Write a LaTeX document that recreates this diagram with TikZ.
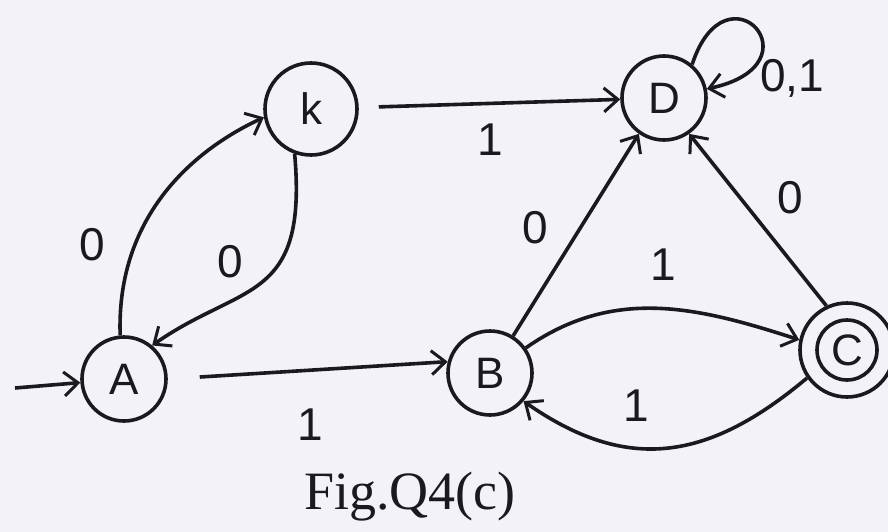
\documentclass[tikz,border=0pt]{standalone}
\usepackage{fontspec}
\setmainfont{Liberation Serif}
\setsansfont{Liberation Sans}
\usetikzlibrary{arrows.meta}
\definecolor{bg}{RGB}{243,242,247}
\definecolor{ink}{RGB}{25,25,30}
\begin{document}
\begin{tikzpicture}[x=1pt,y=-1pt,
  st/.style={circle,draw=ink,line width=3.6pt,inner sep=0pt,text=ink,font=\sffamily\fontsize{44}{46}\selectfont},
  tr/.style={draw=ink,line width=3.6pt,-{Straight Barb[length=14pt,width=24pt,line width=3pt]}},
  lab/.style={font=\sffamily\fontsize{46}{48}\selectfont,text=ink}]
\fill[bg] (0,0) rectangle (888,532);
\useasboundingbox (0,0) rectangle (888,532);
% states
\node[st,minimum size=84pt] (A) at (124,379) {A};
\node[st,minimum size=92pt] (k) at (311,109) {k};
\node[st,minimum size=84pt] (D) at (664,98) {D};
\node[st,minimum size=84pt] (B) at (490,373) {B};
\node[st,minimum size=94pt] (C) at (847,350) {};
\node[st,minimum size=60pt] (Ci) at (847,350) {C};
% start arrow
\coordinate (s) at (15,388);
\draw[tr] (s) -- (A);
% transitions
\draw[tr] (A.95) .. controls +(92:110pt) and +(205:90pt) .. (k.190);
\draw[tr] (k.-110) .. controls +(-85:150pt) and +(35:110pt) .. (A.50);
\draw[tr,shorten <=20pt] (k) -- (D);
\draw[tr] (D.50) .. controls +(72:110pt) and +(12:118pt) .. (D.12);
\draw[tr] (B) -- (D.235);
\draw[tr] (C.115) -- (D.-55);
\draw[tr] (B.35) to[out=35,in=162] (C.168);
\draw[tr] (C.215) to[out=-140,in=-35,looseness=1.15] (B.-40);
\draw[tr,shorten <=32pt] (A.0) -- (B.165);
% labels
\node[lab] (l1) at (92,245) {0};
\node[lab] (l2) at (230,262) {0};
\node[lab] (l3) at (490,140) {1};
\node[lab] (l4) at (792,78) {0,1};
\node[lab] (l5) at (535,228) {0};
\node[lab] (l6) at (790,198) {0};
\node[lab] (l7) at (663,265) {1};
\node[lab] (l8) at (636,406) {1};
\node[lab] (l9) at (310,425) {1};
% caption
\node[text=ink,font=\fontsize{54}{60}\selectfont] (cap) at (410,497) {Fig.Q4(c)};
\end{tikzpicture}
\end{document}
